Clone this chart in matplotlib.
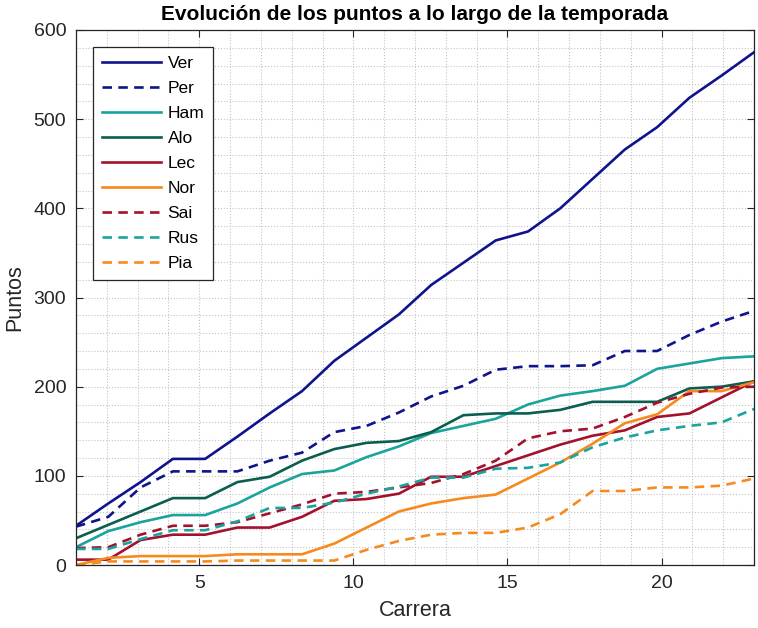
import numpy as np
import matplotlib
matplotlib.use('Agg')
import matplotlib.pyplot as plt
from matplotlib.ticker import MultipleLocator

plt.rcParams['font.family'] = ['Liberation Sans', 'DejaVu Sans']

# Cumulative points per driver (22 races, drawn over 1..23)
carreras = np.linspace(1, 23, 22)

ver = [44, 69, 93, 119, 119, 144, 170, 195, 229, 255, 281, 314, 339, 364, 374, 400, 433, 466, 491, 524, 549, 575]
per = [43, 54, 87, 105, 105, 105, 117, 126, 149, 156, 171, 189, 201, 219, 223, 223, 224, 240, 240, 258, 273, 285]
ham = [20, 38, 48, 56, 56, 69, 87, 102, 106, 121, 133, 148, 156, 164, 180, 190, 195, 201, 220, 226, 232, 234]
alo = [30, 45, 60, 75, 75, 93, 99, 117, 130, 137, 139, 149, 168, 170, 170, 174, 183, 183, 183, 198, 200, 206]
lec = [6, 6, 28, 34, 34, 42, 42, 54, 72, 74, 80, 99, 99, 111, 123, 135, 145, 151, 166, 170, 188, 206]
nor = [0, 8, 10, 10, 10, 12, 12, 12, 24, 42, 60, 69, 75, 79, 97, 115, 136, 159, 169, 195, 195, 205]
sai = [19, 20, 34, 44, 44, 48, 58, 68, 80, 82, 87, 92, 102, 117, 142, 150, 153, 166, 182, 192, 199, 200]
rus = [18, 18, 29, 39, 39, 49, 64, 64, 70, 80, 88, 98, 98, 108, 109, 115, 132, 143, 151, 156, 160, 175]
pia = [0, 4, 4, 4, 4, 5, 5, 5, 5, 17, 27, 34, 36, 36, 42, 57, 83, 83, 87, 87, 89, 97]

pilotos = ['Ver', 'Per', 'Ham', 'Alo', 'Lec', 'Nor', 'Sai', 'Rus', 'Pia']
series = [ver, per, ham, alo, lec, nor, sai, rus, pia]

navy = '#10138c'
teal = '#1ba39d'
green = '#0b5e4e'
red = '#a3122d'
orange = '#f68a1e'
colores = [navy, navy, teal, green, red, orange, red, teal, orange]
estilos = ['-', '--', '-', '-', '-', '-', '--', '--', '--']

fig = plt.figure(figsize=(7.58, 6.28), dpi=100)
ax = fig.add_axes([76/758, 1 - 565/628, (754-76)/758, (565-30)/628])

for nombre, y, c, ls in zip(pilotos, series, colores, estilos):
    line, = ax.plot(carreras, y, ls, color=c, lw=1.9, label=nombre)
    if ls == '--':
        line.set_dashes((3.6, 2.4))

ax.set_xlim(1, 23)
ax.set_ylim(0, 600)
ax.xaxis.set_major_locator(MultipleLocator(5))
ax.xaxis.set_minor_locator(MultipleLocator(1))
ax.yaxis.set_major_locator(MultipleLocator(100))
ax.yaxis.set_minor_locator(MultipleLocator(20))

ax.grid(True, which='both', linestyle=':', color='#c4c4c4', lw=0.8)
ax.set_axisbelow(True)
ax.tick_params(which='major', direction='in', top=True, right=True, length=5,
               width=0.8, color='#262626', labelsize=14, labelcolor='#262626', pad=7)
ax.tick_params(which='minor', length=0)
for s in ax.spines.values():
    s.set_color('#262626')
    s.set_linewidth(0.9)

ax.set_xlabel('Carrera', fontsize=15.5, color='#262626', labelpad=6)
ax.set_ylabel('Puntos', fontsize=15.5, color='#262626', labelpad=6)
ax.set_title('Evolución de los puntos a lo largo de la temporada',
             fontsize=15, fontweight='bold', pad=7)

leg = ax.legend(loc='upper left', bbox_to_anchor=(17/678, 1 - 17/535),
                borderaxespad=0, fontsize=12.5, handlelength=3.4, handletextpad=0.4,
                labelspacing=0.57, fancybox=False, framealpha=1, edgecolor='#262626',
                borderpad=0.5)
leg.get_frame().set_linewidth(0.9)

fig.savefig('out.png', dpi=100)
